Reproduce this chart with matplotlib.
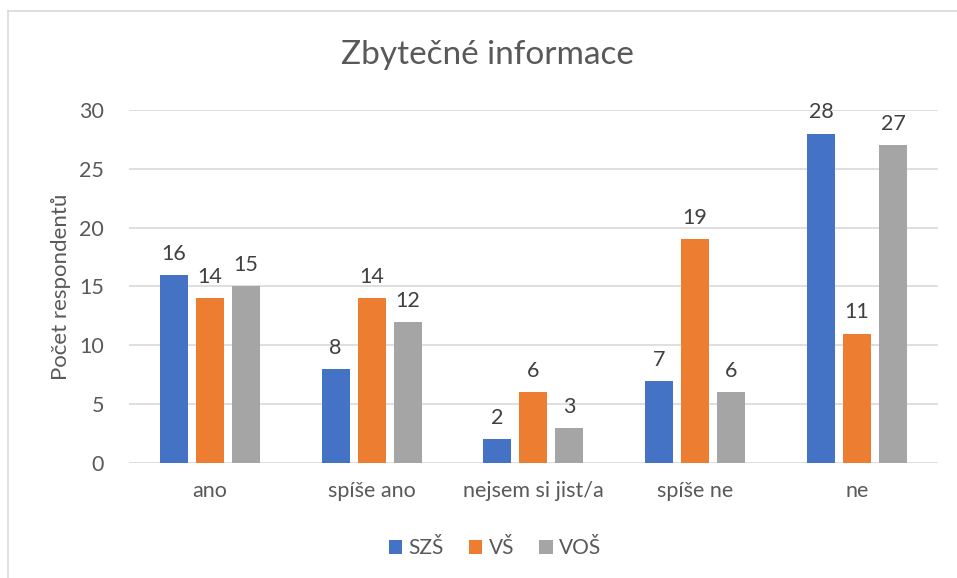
import numpy as np
import matplotlib
matplotlib.use("Agg")
import matplotlib.pyplot as plt
from matplotlib.lines import Line2D

categories = ["ano", "spíše ano", "nejsem si jist/a", "spíše ne", "ne"]
series = ["SZŠ", "VŠ", "VOŠ"]
szs = [16, 8, 2, 7, 28]
vs = [14, 14, 6, 19, 11]
vos = [15, 12, 3, 6, 27]
colors = ["#4472C4", "#ED7D31", "#A5A5A5"]

plt.rcParams['font.family'] = ['Lato', 'DejaVu Sans']

fig = plt.figure(figsize=(9.57, 5.78), dpi=100)
ax = fig.add_axes([0.1348, 0.199, 0.980 - 0.1348, 0.8097 - 0.199])

x = np.arange(len(categories))
w = 0.173
step = 0.2225
for i, (name, vals, c) in enumerate(zip(series, [szs, vs, vos], colors)):
    bars = ax.bar(x + (i - 1) * step, vals, w, color=c, label=name, zorder=3)
    for b, v in zip(bars, vals):
        ax.annotate(str(v), (b.get_x() + b.get_width() / 2, v),
                    xytext=(0, 8), textcoords="offset points",
                    ha="center", va="bottom", fontsize=15.5, color="#404040")

ax.set_xlim(-0.5, len(categories) - 0.5)
ax.set_ylim(0, 30)
ax.set_yticks(range(0, 31, 5))
ax.set_xticks(x)
ax.set_xticklabels(categories)
ax.yaxis.grid(True, color="#D9D9D9", lw=1.2, zorder=0)
ax.tick_params(length=0, labelsize=15.5, colors="#595959")
ax.tick_params(axis="x", pad=13)
ax.tick_params(axis="y", pad=18)
for s in ax.spines.values():
    s.set_visible(False)
ax.set_ylabel("Počet respondentů", fontsize=16, color="#595959", labelpad=6)

fig.text(0.509, 0.905, "Zbytečné informace", ha="center", va="center",
         fontsize=24, color="#595959")

leg = fig.legend(loc="center", bbox_to_anchor=(0.517, 0.052), ncol=3, frameon=False,
                 fontsize=15, handlelength=0.65, handleheight=0.65, handletextpad=0.3,
                 columnspacing=1.2)
for t in leg.get_texts():
    t.set_color("#595959")

# chart border (only left and top visible in the crop)
fig.add_artist(Line2D([8 / 957, 8 / 957], [0, 1 - 11 / 578], transform=fig.transFigure,
                      color="#D9D9D9", lw=1.2))
fig.add_artist(Line2D([8 / 957, 1], [1 - 11 / 578, 1 - 11 / 578], transform=fig.transFigure,
                      color="#D9D9D9", lw=1.2))

fig.savefig("out.png", dpi=100)
